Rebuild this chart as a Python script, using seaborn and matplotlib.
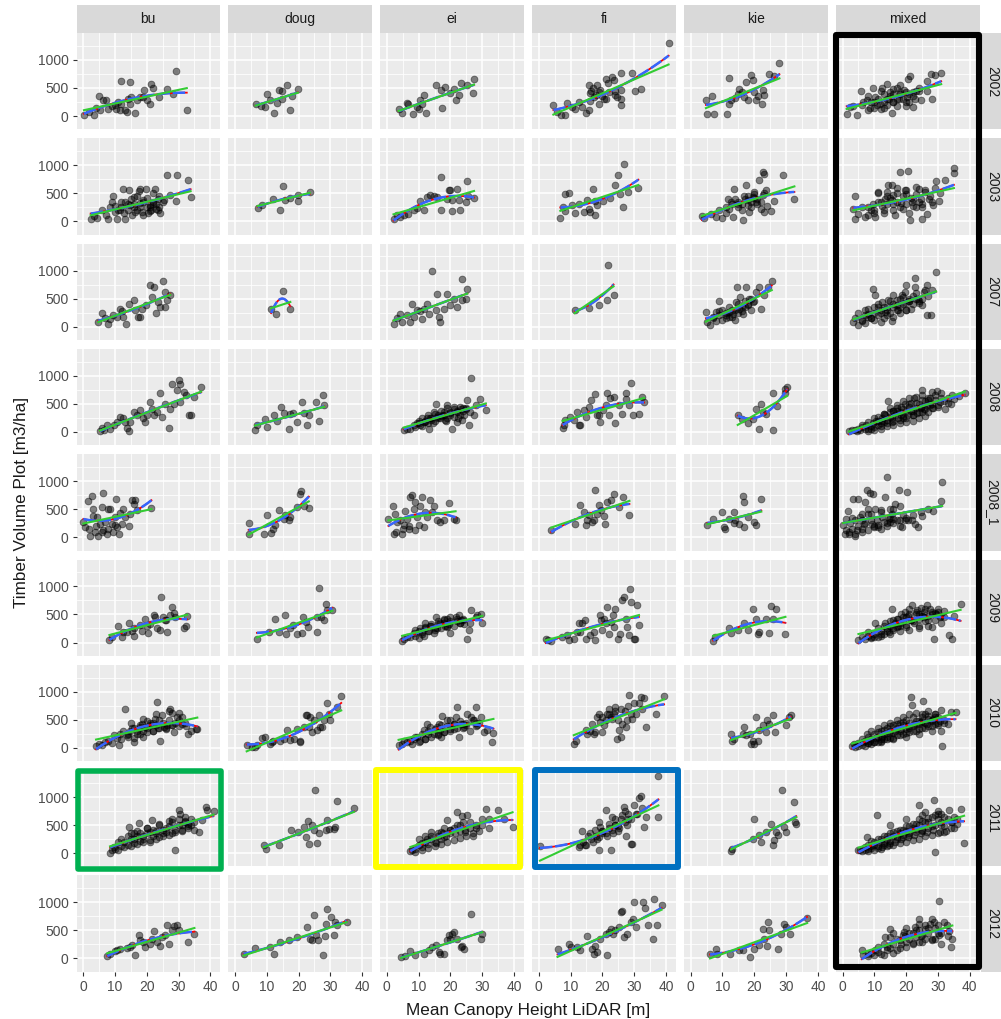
import numpy as np
import matplotlib
matplotlib.use("Agg")
import matplotlib.pyplot as plt
import seaborn as sns
from matplotlib.patches import Rectangle

species = ["bu", "doug", "ei", "fi", "kie", "mixed"]
years = ["2002", "2003", "2007", "2008", "2008_1", "2009", "2010", "2011", "2012"]
x_ticks = [0, 10, 20, 30, 40]
x_minor = [5, 15, 25, 35]
y_ticks = [0, 500, 1000]
y_minor = [250, 750, 1250]
x_label = "Mean Canopy Height LiDAR [m]"
y_label = "Timber Volume Plot [m3/ha]"

# ---------------- row 2002 ----------------
bu_2002_x = [0.3,2,3.5,4,5,5.3,6.3,7.2,8,9,10,10.5,11,11.6,11.8,12,13.2,13.7,14,14.7,14.7,15,16.3,17,18,19,19.3,20,21,21.3,22,24,26.5,28.4,29.2,32.6]
bu_2002_y = [24,70,24,150,350,100,280,290,130,180,200,120,250,100,625,220,100,70,300,607,220,330,60,290,330,340,470,290,220,565,505,340,475,390,800,100]
doug_2002_x = [6.5,8.1,9.5,10,11,12.4,13.2,13.7,14.9,14.8,16.3,17.4,17.8,19.8]
doug_2002_y = [208,185,160,387,290,60,238,470,440,310,550,100,350,490]
ei_2002_x = [3.7,4.8,6.2,6.6,8.1,9.5,10,10.3,11,11.8,12.3,15.5,17.2,16.9,18.4,20,21,21.6,22.6,23.2,25.2,27,27.4]
ei_2002_y = [125,60,232,208,42,160,130,292,220,375,60,548,143,458,518,417,488,292,369,589,548,411,660]
fi_2002_x = [4.6,5.7,7,8.2,8.9,10.5,11.5,12.6,13.5,14.7,15.7,16,15.7,16.2,17.3,18.3,18.8,19.3,20.4,21.2,21.7,23,23.5,24,24.6,25.7,25.7,25.9,29.4,30.4,32.2,40.8,16.5,17,18,19,20,21,22,24,26]
fi_2002_y = [190,71,12,24,232,160,130,250,160,60,100,411,548,268,340,548,208,458,310,654,590,696,637,380,340,298,774,458,774,446,488,1300,450,500,380,420,350,300,420,450,200]
kie_2002_x = [4.8,5.1,6.6,7.4,11.3,12.1,12.0,12.7,13.8,14.8,15.3,16.2,16.9,17.4,18,19,19.5,19.8,20.5,21.3,22.5,22.7,23.2,24.5,26.1,27.9]
kie_2002_y = [280,42,357,42,42,684,220,280,320,399,488,420,340,607,280,726,637,420,280,357,220,470,380,743,714,952]
mixed_2002_x = [1.3,2.3,3.3,4.4,5.8,6.5,7.6,8.5,9.5,10.2,10.7,11.8,12.4,13.1,14,14.5,15,15.4,16,17.1,17.9,18.2,19.2,20.2,20.7,21.3,22,22.8,23.9,24.7,26.4,26.6,27.8,28.1,29.2,31,9,10,11,13,14,15,16,17,18,19,20,21,22,23,8,12,16,20,
                6,8,10,12,14,16,18,20,22,24,13,17,21]
mixed_2002_y = [42,160,170,12,440,250,280,150,506,340,200,220,506,399,577,300,420,60,250,506,310,548,458,340,654,708,160,300,506,280,619,446,756,310,726,768,250,150,300,250,200,350,250,180,420,300,250,400,350,450,100,120,400,180,
                200,350,250,450,300,480,400,420,420,450,150,300,250]

# ---------------- row 2003 ----------------
bu_2003_x = [2.4,3.3,4.5,6.1,7.2,8,8.5,9.3,9,10,10.6,11.5,12.5,13.2,13.2,14.3,14.8,15.3,15.9,16.4,17.5,18,18.5,19,19.9,20.3,21.1,21.4,22,22.7,23.4,23.7,24.2,25.3,26.4,27.4,29.4,29.2,32.9,33.8,12,14,16,18,20,22,24,13,17,19,21,23,
             10,11,12,14,15,16,17,18,19,20,21,22,23,24,25]
bu_2003_y = [48,95,65,196,107,48,256,452,345,170,48,200,571,48,345,553,286,110,440,170,536,571,170,345,571,140,286,200,345,583,200,405,140,375,821,464,821,360,744,434,250,300,250,320,250,300,250,150,200,120,180,220,
             280,200,350,200,400,300,450,250,380,420,250,500,300,450,350]
doug_2003_x = [7.1,8.4,11.9,14.2,15,15.8,17.4,19.8,19.8,23.5]
doug_2003_y = [238,286,405,196,625,375,417,357,476,524]
ei_2003_x = [2.1,3.2,4.2,5.3,6.8,8.4,9.4,10.5,11.8,12.6,13.7,14.7,15.8,17.1,17.1,18.8,19.5,20,20.5,20.5,22.1,22.9,22.6,25,25.2,25.5,27.4]
ei_2003_y = [48,107,80,107,137,196,230,357,196,434,464,450,434,792,196,400,553,553,375,179,583,196,375,345,720,460,417]
fi_2003_x = [6.8,7.5,8.1,8.3,9.6,10.4,11.5,12.6,14.1,15.2,15.9,16.2,17.1,17.8,17.8,18.3,20.2,22.5,24.1,24.8,25.4,26.4,26.9,28.1,31.3]
fi_2003_y = [60,256,179,494,512,286,155,315,167,387,215,167,583,119,357,290,357,417,643,821,494,256,1030,524,601]
kie_2003_x = [3.5,4.2,6.4,8,9,10,11,11.6,12.2,12.7,13.2,13.7,14.8,16.3,16.8,17.4,17.9,18.4,19.5,20,20.6,21.6,22.1,22.7,23,22.7,23.2,23.7,25.3,26.3,28.9,32.6,15,16,18,19,20,21,24,
              11,13,14,15,16,17,18,19,20,21,22,23]
kie_2003_y = [89,60,137,80,196,60,256,405,220,345,77,571,256,18,450,655,290,167,434,530,345,732,220,881,850,476,167,553,179,357,821,393,300,200,380,250,420,300,280,
              150,300,400,350,300,400,450,350,480,400,350,500]
mixed_2003_x = [3.4,3.9,3.9,5,6,7,8.1,9.5,10.2,11.3,13.4,14.4,15.5,16,16.5,18.1,19.6,20.5,21.2,21.7,23,23.9,24.9,26,27.1,26.6,28.4,29.4,30.2,32.1,35,35,8,10,12,13,14,15,16,17,18,19,20,21,22,23,24,25,11,14,17,20,
                9,11,12.5,14,15.5,17,18.5,20,21.5,23,24.5,26,27.5,29,30.5,10,13,16,19,22,25,28]
mixed_2003_y = [226,452,48,137,250,80,107,300,77,520,400,643,643,465,107,881,560,899,18,345,620,583,48,560,405,137,286,727,357,738,863,958,250,200,350,150,300,420,200,350,250,450,300,150,400,250,350,300,500,520,600,480,
                200,350,280,450,380,500,320,550,420,480,400,520,450,600,500,150,200,300,220,280,250,350]

# ---------------- row 2007 ----------------
bu_2007_x = [4.8,5.9,7,8,8.5,9.5,10.6,11.5,12.2,12.7,13.5,14.3,15.9,16.4,17.4,18,18.5,19.9,21.1,21.6,22.4,23,23.7,24.2,25.1,25.6,25.9,26.4,27.4]
bu_2007_y = [83,244,150,42,143,200,173,321,280,180,42,411,470,292,180,173,320,381,738,530,708,250,440,350,815,619,351,470,571]
doug_2007_x = [11.4,12.9,15,17.4]
doug_2007_y = [321,232,643,321]
ei_2007_x = [2.1,3.2,4.2,4.8,6.3,7.4,7.9,8.4,9.5,10.5,11,11.6,12.6,13.2,14.2,15.3,15.8,16.3,16.8,17.9,18.9,20,21,21.9,23.5,23.7,24.8,25.3]
ei_2007_y = [54,155,232,90,202,83,411,180,292,270,143,321,411,232,988,292,589,180,83,321,589,380,500,351,857,470,500,678]
fi_2007_x = [11.3,15.7,18.8,21.5,21.7,23.5]
fi_2007_y = [304,333,393,482,1107,571]
kie_2007_x = [4.8,5.3,6,6.9,7.9,8.8,10,11,12.1,13.2,13.9,14.1,14.6,15.1,15.6,16.3,17.4,17.9,18.4,19.5,20.5,21.6,22.1,23.1,24.2,25.5,9,11,13,15,17,19,8,12,16,
              7,9,10,11,12,13,14,15,16,17,18,19,20]
kie_2007_y = [262,83,24,173,262,458,113,202,262,232,113,440,708,321,530,232,708,381,500,440,619,708,321,571,708,815,200,150,300,250,350,300,100,180,280,
              150,280,300,250,350,180,300,400,350,450,400,500,450]
mixed_2007_x = [3.4,4,5,6,7,8,9.7,10.2,11.2,12.3,13.3,14.4,15.5,16,17,17.5,18.6,19.6,20,21,21.6,22.7,22.9,23.8,25.5,26.6,27.9,28.2,29.4,26.6,6,7,8,9,10,11,12,13,14,15,16,17,18,19,20,21,22,23,24,25,10,12,14,16,18,20,
                5,7,9,11,13,15,17,19,21,23,25,27,8,12,16,20,24,10,14,18,22,26]
mixed_2007_y = [83,150,24,120,202,320,679,560,350,440,260,470,100,560,470,300,560,620,738,500,320,708,869,500,620,200,202,649,976,738,100,60,180,150,250,200,300,150,350,250,400,300,350,400,300,450,400,500,420,380,120,80,200,180,250,300,
                250,300,150,400,350,450,380,520,450,600,500,550,220,250,350,420,450,350,300,500,550,650]

# ---------------- row 2008 ----------------
bu_2008_x = [5.3,5.9,6.5,7.5,8.5,9.6,10.6,11.7,12.7,13.2,13.8,14.3,14.8,15.9,16.9,18,19,19.5,20,21.1,21.7,22.2,23.2,24.1,24.8,25.9,27.1,27.4,27.9,28.5,29.5,30.1,30.4,30.6,31.7,32.2,33.2,34,34.8,37.1]
bu_2008_y = [12,71,40,119,60,119,180,268,240,180,71,12,180,357,298,387,240,180,298,536,417,298,357,702,268,506,77,417,863,506,744,923,850,536,714,655,298,298,625,792]
doug_2008_x = [6.3,6.9,9.5,10,12.4,13.2,14.6,15.3,16.9,17.4,18.1,19.5,21.1,21.6,22.7,23.2,25.6,26.3,27.7,28.1]
doug_2008_y = [42,120,238,90,310,190,446,330,60,327,330,180,536,330,120,300,536,196,655,476]
ei_2008_x = [5.3,6.3,7.4,8.4,9.5,10.5,11.6,12.6,13.2,13.7,14.7,15.3,15.8,16.8,17.7,18.4,18.9,20,20.5,21,22.1,23.2,23.7,24.2,25.3,25.8,26.4,27.4,27.9,29.3,31.1,9,10,11,12,13,14,15,16,17,18,19,20,21,22,23,24,25,26,
             10,11,12,13,14,15,16,17,18,19,20,21,22,23,24,25,14.5,18.5,22.5]
ei_2008_y = [30,60,60,119,150,119,180,240,60,240,357,506,270,240,300,210,488,357,60,270,180,400,210,300,565,120,970,300,476,595,399,80,150,100,200,150,250,200,300,280,350,250,300,400,350,450,380,420,350,
             200,250,180,300,220,320,250,380,300,420,330,450,380,300,420,400,150,200,250]
fi_2008_x = [7.5,7.8,8.3,9.9,11,12,12.6,13.1,14.1,14.7,15.7,16.5,17.8,18.3,18.9,19.4,20.1,21,21.5,22,22.5,23.6,24.1,25.2,26.2,27.3,27.5,28.3,29.1,29.7,31.5,32.6,33.1]
fi_2008_y = [71,119,208,268,208,357,119,119,387,268,446,565,667,310,298,179,387,476,702,298,607,625,167,476,327,702,595,476,875,310,327,625,536]
kie_2008_x = [14.8,16.1,19.5,20.6,22.2,22.7,23.7,25.8,26,27.2,29.5,29.7,30.3,21.6,18]
kie_2008_y = [310,238,238,417,506,360,327,702,42,464,685,762,792,60,150]
mixed_2008_x = [2,3,3.9,4.5,5,5.5,6,7,7.5,8,9,9.5,10,10.5,11,11.3,12,12.5,13,13.5,14,14.4,15,15.5,16,16.5,17,17.5,18,18.5,19,19.5,20,20.5,21,21.5,22,22.5,23,23.5,24,24.5,25,25.5,26,26.5,27,27.5,28,28.1,28.5,29,29.7,30,31,32.3,33,34.4,36.5,38.4,8,10,12,14,16,18,20,22,24,26,15,17,19,21,23,25,27,13,16,19,22,25,
                6,8,9,10,11,12,13,14,15,16,17,18,19,20,21,22,23,24,25,26,27,28,29,30,31,32,33,34,35,12.5,15.5,18.5,21.5,24.5,27.5,30.5]
mixed_2008_y = [20,40,30,10,60,30,80,50,120,60,100,150,80,200,120,268,150,250,180,300,220,553,260,180,380,300,420,250,350,450,280,500,380,300,450,520,380,600,420,330,500,450,744,400,550,480,350,600,714,500,420,560,726,480,600,417,520,655,637,702,20,40,60,100,120,150,180,200,250,280,420,480,550,600,620,650,560,320,380,250,300,350,
                120,180,50,250,200,100,320,150,350,200,380,220,400,250,500,300,520,350,560,400,600,420,650,450,700,550,600,500,580,200,250,300,380,420,480,540]

# ---------------- row 2008_1 ----------------
bu_2008_1_x = [0.1,0.6,1.6,2.2,2.7,3,3.2,3.8,4.3,4.8,5.3,5.9,6.2,6.4,6.9,7.4,8,8.5,9,9.5,10.1,10.4,10.8,11.4,11.7,12.2,12.7,13.2,14.3,14.8,15.3,15.9,16.4,16.9,21.5,2,4,6,8,10]
bu_2008_1_y = [270,180,643,30,732,500,380,90,360,30,240,536,780,120,270,60,500,506,240,90,357,685,180,60,440,240,506,357,194,417,655,600,667,480,524,150,200,100,150,220]
doug_2008_1_x = [4.3,4.5,9,10,11.4,12,12.6,14,15.3,15.8,16.9,17.4,19.5,20.6,20.8,21.6,23.2]
doug_2008_1_y = [250,60,60,390,75,150,214,494,330,390,300,360,536,774,815,565,524]
ei_2008_1_x = [0.5,1.9,2.1,2.6,3.2,4.2,4.7,5.3,5.8,6.3,6.9,7.4,7.9,8.4,9,9.5,10,10.5,11,11.6,12.1,12.6,13.7,14.2,14.7,15.8,16.8,17.9,19.5,21.1,21.6,3,5,7,9]
ei_2008_1_y = [330,548,60,417,270,300,60,210,476,330,155,714,744,500,625,360,210,565,714,180,450,360,655,450,565,300,270,300,607,330,300,100,150,200,120]
fi_2008_1_x = [3.9,11.5,13.1,14.1,14.7,15.2,15.7,16.8,17.3,17.8,18.3,18.9,19.7,20.4,20.9,21.5,22.6,23.6,25.2,26.4,28.5]
fi_2008_1_y = [122,240,571,452,214,300,390,270,300,837,420,571,490,372,240,631,660,765,540,720,390]
kie_2008_1_x = [5.3,6.9,10,10.6,10.9,12.1,13.7,13.7,15.3,16.4,16.9,16.9,17.9,20,20.6,22.2,14]
kie_2008_1_y = [214,330,452,185,155,330,452,250,240,732,631,180,360,270,214,690,300]
mixed_2008_1_x = [0.2,0.7,1.2,1.8,2.3,3.4,3.9,4.4,5,5.5,6,6.6,7.1,7.6,8.1,8.7,9.2,9.7,10.2,10.8,11.3,12.3,13.4,14,14.5,15,15.5,16,16.6,17.6,18.6,19.6,20.2,20.7,21.7,22.7,23.7,24.7,27,28.5,31.3,30.8,1,2,3,4,5,6,7,8,9,10,11,12,13,14,15,16,17,18,19,3,6,9,12,15,18,
                  2,4,6,8,10,12,14,16,18,20,22,25]
mixed_2008_1_y = [214,60,330,476,250,690,30,120,690,360,420,240,631,837,420,780,240,777,500,300,180,360,720,1077,330,270,420,330,600,837,180,300,807,300,300,240,180,450,500,470,987,640,120,50,150,60,200,100,250,120,300,180,220,150,280,200,350,250,300,200,400,350,300,420,480,500,550,
                  100,300,150,500,200,450,250,500,300,350,400,380]

# ---------------- row 2009 ----------------
bu_2009_x = [8.3,9,11.1,12.2,12.7,13.7,14.3,15.3,15.9,17.9,18.4,19.5,20.5,21.1,22.2,22.7,23.2,24.1,24.5,25.1,25.8,26.4,27.4,28,28.5,29,31.6,32.2,32.7,20,16,26]
bu_2009_y = [36,95,286,95,190,190,345,210,120,307,210,426,170,330,486,455,265,230,813,455,395,190,486,635,520,455,250,286,476,300,250,400]
doug_2009_x = [6.9,10.6,12.7,13.7,15.6,16.1,17.4,18.3,19.5,21.1,21.4,22.2,23,25.8,26.4,27.2,28.1,28.6,28.9,30.6,25.8]
doug_2009_y = [69,190,426,190,486,143,250,307,155,170,455,370,280,190,980,460,397,683,575,575,460]
ei_2009_x = [4.8,5.5,6.3,7.4,8.4,9,10,10.5,11.6,12.1,13.2,13.7,14.7,15.3,15.8,16.8,17.9,18.4,19,19.5,20,21.6,22.6,23.2,24.2,25.3,25.8,26.3,27.9,28.4,29.5,30,9,11,12,13,14,15,16,17,18,19,20,21,22,23,24,
             10,12,14,16,18,20,22,24,26,11,15,19,23]
ei_2009_y = [27,60,90,100,170,220,80,250,120,345,200,290,170,455,260,345,397,300,426,330,170,455,486,397,330,69,220,575,455,486,515,345,120,180,250,200,300,220,330,260,350,280,380,300,420,350,400,
             200,280,330,380,420,450,380,420,350,150,250,300,350]
fi_2009_x = [2.2,3,4,7.3,8.9,9.4,11,12,12.5,13,13.6,14.4,14.7,16.2,17.3,17.8,19.4,19.7,19.9,20.4,21,21.5,22,22.6,23.3,23.6,24.1,25,25.4,26.2,26.8,27.3,27.8,28.4,29.1,29.9,30.4,30.9,31.5,28.8]
fi_2009_y = [69,40,30,100,130,40,69,190,345,190,345,397,69,130,190,40,486,397,220,426,345,635,160,370,486,280,605,69,160,764,813,426,280,130,725,69,69,665,307,960]
kie_2009_x = [7.1,7.7,12.1,12.6,14.8,16.9,17.9,19.5,20.6,21.1,21.6,23.7,24.5,25.3,25.8,26.9,29.8]
kie_2009_y = [27,90,250,170,220,345,220,595,426,160,190,426,170,645,426,595,160]
mixed_2009_x = [5,6,7,8,9,10,10.2,11,12,13,14,14.5,15,15.5,16,16.5,17,17.5,18,18.5,19,19.5,20,20.5,21,21.5,21.8,22.5,23,23.5,24,24.5,25,25.5,26,26.6,27,27.5,28,28.7,29,30,30.5,31,32,33.4,34.5,35,37.1,9,12,15,18,21,24,27,16,20,24,28,
                8,10,11,12,13,14,15,16,17,18,19,20,21,22,23,24,25,26,27,28,29,30,31,32,13.5,17.5,21.5,25.5,29.5]
mixed_2009_y = [40,100,60,120,80,150,345,100,200,150,250,180,300,605,220,350,280,420,300,500,380,550,320,470,600,400,665,350,500,580,420,620,470,550,380,675,480,600,280,69,520,600,450,480,560,130,69,480,680,100,120,160,200,220,260,300,400,450,500,550,
                180,100,250,150,300,200,380,250,420,350,450,280,500,380,550,300,480,600,400,500,400,550,350,450,350,300,400,450,500]

# ---------------- row 2010 ----------------
bu_2010_x = [4.1,5,6,7,8,9,9.6,10.6,11.2,11.7,12.7,13.3,13.8,14.8,15.3,15.9,16.9,17.9,18.5,19,19.5,20.1,21.1,22,22.7,23.3,23.5,24.3,24.8,25.3,26.4,27.4,27.9,28.5,29.5,30,31.1,32.2,33,34,35.4,35.9,12,14,16,18,20,22,24,26,28,30,15,19,23,27,
             14,16,17,18,19,20,21,22,23,24,25,26,27,28,29,30,31,32]
bu_2010_y = [33,70,50,100,130,80,220,180,50,250,300,690,220,300,360,100,250,370,430,200,370,480,400,440,520,810,350,120,580,370,400,700,620,280,550,620,420,380,250,300,330,330,150,200,180,250,280,300,350,330,400,380,450,520,600,650,
             250,350,300,400,300,350,450,300,400,500,450,350,500,400,450,500,550,450]
doug_2010_x = [3.7,5.3,6.3,6.9,8.4,9.4,11,11.6,12.1,14.2,15.3,16.4,17.4,18.5,19.5,20.3,20.5,21.6,22.2,22.7,23.2,23.7,24.2,24.7,25.8,26.3,26.8,27.4,27.9,28.9,29.5,30,32.1,33.4]
doug_2010_y = [45,15,15,45,182,190,75,100,130,120,160,325,140,160,340,100,130,370,580,580,370,550,280,490,310,580,370,370,490,790,610,490,730,920]
ei_2010_x = [3.7,4.7,5.3,6.3,7.4,8.4,9.5,10.5,11.6,12.6,13.7,14.7,15.8,16.3,16.8,17.3,17.9,18.9,20,21,21.6,22.1,22.6,23.2,24.2,25.3,26.3,27.4,27.9,28.4,29.5,30.5,31.6,33.2,33.5,8,10,12,14,16,18,20,22,24,26,28,13,17,21,25,
             9,11,13,15,17,19,21,23,25,27,29,12,16,20,24,28]
ei_2010_y = [45,60,130,100,130,160,190,130,310,420,370,250,370,430,310,560,280,490,490,430,550,730,200,430,370,610,550,490,730,400,550,280,310,100,270,60,100,160,200,240,290,330,360,420,300,450,250,200,330,400,
             200,250,300,330,400,380,420,480,450,500,450,150,220,300,350,380]
fi_2010_x = [11,11.6,14.7,15.2,16.2,16.8,17.3,17.8,18.3,18.9,19.4,20,20.5,21,21.5,22,22.6,23.1,23.6,24.1,24.7,25.2,25.7,26.2,27.3,27.8,28.4,28.9,29.4,30.5,31.5,32,32.6,33.1,33.6,37,39.4,
             20,22,24,26,28,30,25,27]
fi_2010_y = [75,130,310,250,300,430,250,280,550,610,460,280,400,490,610,700,550,520,610,730,160,310,190,430,370,490,950,610,520,610,790,910,700,880,370,610,925,
             550,600,650,700,750,800,500,650]
kie_2010_x = [12.7,13,13.7,16.4,16.9,17.4,18.5,19,20,20.6,21.1,21.6,22.7,23.7,23.9,24.7,25.8,26.6,30,30.9,31.4,19.5]
kie_2010_y = [250,130,160,250,370,220,250,75,75,550,130,310,400,280,490,430,580,280,400,550,580,130]
mixed_2010_x = [3,3.5,4,5,6,7,7.6,8,9,10,11,12,13,14,15,16,17,18,19,20,21,21.6,21.8,22,23,24,25,25.2,26,27,28,29,30,30.8,31.1,32,33,34,35.5,5,8,10,12,14,16,18,20,22,24,26,28,30,9,11,13,15,17,19,21,23,25,27,29,12,16,20,24,28,
                6,7,8,9,10,11,12,13,14,15,16,17,18,19,20,21,22,23,24,25,26,27,28,29,30,31,32,6.5,8.5,10.5,12.5,14.5,16.5,18.5,20.5,22.5,24.5,26.5,28.5,30.5,11,13,15,17,19,21,23,25,27,29]
mixed_2010_y = [30,60,20,80,50,120,250,90,150,110,200,160,250,200,300,260,350,300,400,330,450,910,760,380,480,420,550,840,450,520,480,600,450,680,27,500,420,640,640,40,80,100,130,150,180,220,260,300,330,360,380,400,300,350,400,450,500,550,600,620,600,650,550,100,150,200,250,300,
                150,40,200,60,250,100,300,150,350,180,400,220,450,250,500,280,550,300,480,350,600,380,500,420,550,300,450,100,130,180,200,260,300,330,380,420,460,430,520,480,280,320,380,420,460,350,420,480,560,600]

# ---------------- row 2011 ----------------
bu_2011_x = [8.5,9,9.6,10,11.1,12,13,14,14.6,15,16,17,17.5,18,19,20,21,21.7,22,23,24,25,26,27,28,29,30,30.1,30.6,31,32,33,34,35,36.4,37.4,38.6,39,41,11,13,15,17,19,21,23,25,27,29,31,33,12,16,20,24,28,32,
             14,15,16,17,18,19,20,21,22,23,24,25,26,27,28,29,30,31,32,33,34,35]
bu_2011_y = [8,60,107,80,196,120,200,150,458,250,180,300,536,220,260,350,200,589,300,400,280,350,450,577,350,48,500,762,702,400,550,450,500,420,375,583,821,762,744,60,100,130,160,200,230,260,300,320,380,420,480,250,350,450,520,600,650,
             300,350,250,400,350,300,450,380,420,350,500,420,380,480,550,420,600,500,580,520,600,560]
doug_2011_x = [9,9.8,14,17.6,19.8,21.6,22.2,23,23.3,24.2,24.7,25.3,25.8,26.3,28.5,28.9,29.5,31.1,32.2,31.6,37.4]
doug_2011_y = [137,77,137,417,375,464,286,565,155,500,417,1125,179,350,405,583,435,435,923,460,798]
ei_2011_x = [7.4,8,9,10,11,12,13,14,15,16,16.9,17.5,18,19,20,21.1,22.1,23,23.7,24.5,25.3,26,27,28,29,30,31.1,32,34.8,36.9,39.5,9,11,13,15,17,19,21,23,25,27,10,12,14,16,18,20,22,24,
             11,12.5,14,15.5,17,18.5,20,21.5,23,24.5,26,28,30,32]
ei_2011_y = [30,60,80,150,100,200,160,250,200,300,256,350,280,583,350,440,738,400,660,380,673,450,300,500,400,613,792,450,774,613,464,20,50,90,130,160,200,230,270,300,350,250,300,380,350,450,420,500,550,
             180,250,300,180,380,300,420,350,500,420,550,450,500,600]
fi_2011_x = [0.4,12.5,13,13.6,14,14.5,15.5,16.5,17.8,18.3,18.9,19.4,20,21.2,21.5,22,22.6,23.2,24.1,25.2,26.2,26.8,27.3,27.8,28.9,29.4,30.5,31.5,32,32.6,33.1,33.6,37.6,37.6,15,17,19,21,23,25,27,29,31,16,20,24,28,
             18,20,22,24,26,28,30,19,23,27,25]
fi_2011_y = [125,100,150,387,200,150,300,250,405,250,62,464,350,774,300,524,50,350,613,450,673,821,300,500,168,155,700,988,1018,800,464,650,1371,643,150,200,280,350,420,480,550,600,700,350,400,500,600,
             300,400,450,500,600,700,850,550,650,750,400]
kie_2011_x = [12.7,13,19.5,20,21.6,22.2,23.7,25.3,25.8,26.3,26.8,27.4,28.8,29.2,30,32.5,32.7,33.2]
kie_2011_y = [30,77,256,613,315,196,375,524,137,226,375,315,1125,464,375,920,554,524]
mixed_2011_x = [5,5.5,6,7,7.6,8,9,10,10.8,11,12,13,14,15,16,17,18,19,20,21,22,23,23.9,24,25,26,27,28,28.7,29.2,30,31,32,33.4,34,35,36,37.1,38.2,8,10,12,14,16,18,20,22,24,26,28,30,32,9,11,13,15,17,19,21,23,25,27,29,31,15,20,25,30,
                7,8,9,10,11,12,13,14,15,16,17,18,19,20,21,22,23,24,25,26,27,28,29,30,31,32,33,34,35,36,12.5,14.5,16.5,18.5,20.5,22.5,24.5,26.5,28.5,30.5,32.5,34.5]
mixed_2011_y = [48,60,30,100,286,70,120,150,685,90,200,150,250,180,300,250,350,280,400,330,450,380,857,500,420,738,550,480,940,20,600,500,650,762,550,450,600,792,185,30,60,80,120,140,180,200,230,260,300,330,350,380,220,250,300,350,400,420,480,520,580,620,680,700,500,600,680,750,
                60,150,90,200,130,250,180,300,220,380,280,420,330,480,360,520,430,600,400,560,450,650,500,700,560,480,600,450,650,520,100,150,200,250,280,320,350,380,420,380,400,550]

# ---------------- row 2012 ----------------
bu_2012_x = [7.6,8.5,10.1,10.6,11.7,13.8,14.8,15.4,16.4,17.5,18,19,19.5,21.1,21.6,22.2,23.2,24.3,24.8,25.9,26.4,26.9,28,28.7,29.4,30.1,32.9,35]
bu_2012_y = [48,80,125,145,175,185,200,235,55,410,320,295,200,260,350,490,300,230,380,410,590,260,500,580,590,500,290,440]
doug_2012_x = [2.7,6.4,11.1,12.2,14.3,16.9,19.5,22.7,23.5,24.3,25,25.5,26,27.7,28.2,28.5,29,30.1,31.1,31.6,32.2,35.1]
doug_2012_y = [71,185,202,83,292,321,381,560,350,330,768,411,330,54,400,619,887,738,411,649,600,649]
ei_2012_x = [4.5,5.8,7.4,9,11.6,13.2,14.2,15.3,16.3,16.8,17.9,19,19.5,20,20.5,21,22.1,23.2,23.7,24.2,26.3,29.5,30]
ei_2012_y = [24,50,130,60,83,155,200,246,120,83,83,321,411,350,440,470,350,202,230,173,798,340,440]
fi_2012_x = [5.9,9.4,10,12,13.1,15.2,16.8,17.3,17.8,18.3,19.4,21,21.5,22,22.6,23.3,24.1,25.2,25.7,26.2,26.8,27.8,28.9,29.6,30,30.5,32.7,33.3,34.2,35.8,36.3,37.3,38.6]
fi_2012_y = [160,250,200,200,145,400,170,80,230,110,350,440,55,470,530,440,500,560,830,840,380,440,650,710,1000,560,1000,900,600,350,1060,600,950]
kie_2012_x = [6.1,7.9,8.4,12.3,15.3,16.4,18.7,20,21.6,22.7,23.2,24,24.4,24.7,27.4,28.5,29.2,30,31.1,36.6]
kie_2012_y = [71,173,83,83,143,143,24,173,232,530,351,230,649,500,173,440,619,560,440,720]
mixed_2012_x = [6,6.5,8.1,9,10.2,11,12.9,13.4,14,15,16,17,18,19.2,20,21,22,22.9,23.9,24.5,25,26,27.6,28.7,29,30.2,30.2,31,32.9,33.5,34.5,34,8,10,12,14,16,18,20,22,24,26,28,30,15,19,23,27,
                11,13,15,17,18.5,19.5,21,22,23,24,25,26,27,28,29,30,31,32,33,16,20,24,28]
mixed_2012_y = [143,60,83,100,143,120,54,381,200,530,260,150,320,470,300,450,280,560,708,400,300,520,619,649,350,411,1024,250,589,480,351,200,40,60,80,150,100,180,200,250,300,350,330,450,380,420,500,550,
                200,250,180,350,250,400,350,450,380,500,420,600,450,350,550,600,450,650,400,450,550,620,700]

# ---------------- drawing ----------------
W, H = 1001, 1019
fig = plt.figure(figsize=(W / 100, H / 100), dpi=100)
fig.patch.set_facecolor("white")
plt.rcParams["font.family"] = ["Liberation Sans", "DejaVu Sans"]

L0, STEP_X, PW = 76.5, 151.9, 143.7
T0, STEP_Y, PH = 33.0, 105.3, 96.3
XLIM = (-2.05, 43.1)
YLIM = (-237, 1480)


def rect(l, t, w, h):
    return [l / W, 1 - (t + h) / H, w / W, h / H]


for r, yr in enumerate(years):
    for c, sp in enumerate(species):
        left = L0 + c * STEP_X
        top = T0 + r * STEP_Y
        ax = fig.add_axes(rect(left, top, PW, PH))
        ax.set_facecolor("#EBEBEB")
        xs = np.asarray(globals()[f"{sp}_{yr}_x"], float)
        ys = np.asarray(globals()[f"{sp}_{yr}_y"], float)
        n = min(len(xs), len(ys))
        xs, ys = xs[:n], ys[:n]
        sns.scatterplot(x=xs, y=ys, ax=ax, color="black", alpha=0.47, s=24,
                        edgecolor="black", linewidth=0.6, zorder=3)
        sns.regplot(x=xs, y=ys, order=2, scatter=False, ci=None, ax=ax,
                    color="#FF0000", line_kws=dict(lw=1.3, zorder=4))
        sns.regplot(x=xs, y=ys, order=2, scatter=False, ci=None, ax=ax,
                    color="#3366FF", line_kws=dict(lw=1.8, zorder=5, linestyle=(0, (5, 1.1))))
        sns.regplot(x=xs, y=ys, order=1, scatter=False, ci=None, ax=ax,
                    color="#33CC33", line_kws=dict(lw=1.5, zorder=6))
        ax.set_xlim(*XLIM)
        ax.set_ylim(*YLIM)
        ax.set_xticks(x_ticks)
        ax.set_xticks(x_minor, minor=True)
        ax.set_yticks(y_ticks)
        ax.set_yticks(y_minor, minor=True)
        ax.set_axisbelow(True)
        ax.grid(which="major", color="white", lw=1.1)
        ax.grid(which="minor", color="white", lw=0.55)
        for s in ax.spines.values():
            s.set_visible(False)
        ax.set_xlabel("")
        ax.set_ylabel("")
        ax.tick_params(which="minor", length=0)
        ax.tick_params(axis="both", which="major", colors="#333333", labelcolor="#4D4D4D",
                       labelsize=10, length=2.75, width=0.8, pad=3)
        if c == 0:
            ax.set_yticklabels([str(v) for v in y_ticks])
        else:
            ax.tick_params(axis="y", which="major", length=0, labelleft=False)
        if r == len(years) - 1:
            ax.set_xticklabels([str(v) for v in x_ticks])
        else:
            ax.tick_params(axis="x", which="major", length=0, labelbottom=False)

        if r == 0:
            sax = fig.add_axes(rect(left, 5, PW, 28))
            sax.set_facecolor("#D9D9D9")
            sax.set_xticks([]); sax.set_yticks([])
            for s in sax.spines.values():
                s.set_visible(False)
            sax.text(0.5, 0.5, sp, ha="center", va="center", fontsize=10, color="#1A1A1A",
                     transform=sax.transAxes)
        if c == len(species) - 1:
            sax = fig.add_axes(rect(981, top, 22, PH))
            sax.set_facecolor("#D9D9D9")
            sax.set_xticks([]); sax.set_yticks([])
            for s in sax.spines.values():
                s.set_visible(False)
            sax.text(11 / 22, 0.5, yr, ha="center", va="center", fontsize=10, color="#1A1A1A",
                     rotation=-90, transform=sax.transAxes)

fig.text(528 / W, 1 - 1010 / H, x_label, ha="center", va="center", fontsize=12.3, color="#1A1A1A")
fig.text(22 / W, 1 - 502.5 / H, y_label, ha="center", va="center", fontsize=12.3, color="#1A1A1A",
         rotation=90)

# highlight frames
ov = fig.add_axes([0, 0, 1, 1], zorder=20)
ov.set_xlim(0, W)
ov.set_ylim(H, 0)
ov.axis("off")
ov.patch.set_alpha(0)
frames = [
    (836, 35, 142.5, 931.5, "#000000", 4.4),
    (78, 771, 142.7, 97.5, "#00B050", 4.0),
    (375.5, 769.7, 144.2, 97.3, "#FFFF00", 4.3),
    (534.5, 769.7, 143.5, 97.3, "#0070C0", 4.3),
]
for (fx, fy, fw, fh, fc, flw) in frames:
    ov.add_patch(Rectangle((fx, fy), fw, fh, fill=False, edgecolor=fc, lw=flw,
                           joinstyle="round"))

fig.savefig("out.png", dpi=100)
